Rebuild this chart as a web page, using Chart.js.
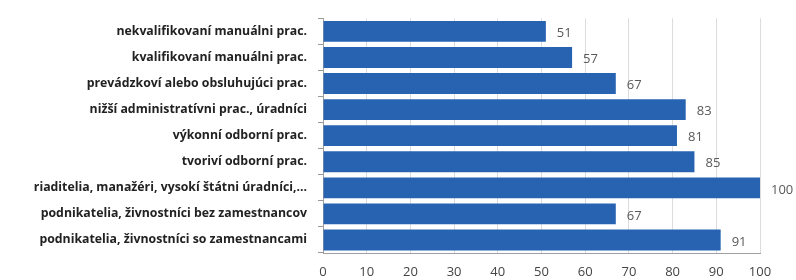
<!DOCTYPE html>
<html><head><meta charset="utf-8">
<script src="https://cdn.jsdelivr.net/npm/chart.js@4/dist/chart.umd.min.js"></script>
<style>html,body{margin:0;padding:0;background:#fff}#wrap{width:796px;height:280px}</style>
</head><body><div id="wrap"><canvas id="c" width="796" height="280"></canvas></div>
<script>
const categories = [
  "nekvalifikovaní manuálni prac.",
  "kvalifikovaní manuálni prac.",
  "prevádzkoví alebo obsluhujúci prac.",
  "nižší administratívni prac., úradníci",
  "výkonní odborní prac.",
  "tvoriví odborní prac.",
  "riaditelia, manažéri, vysokí štátni úradníci,...",
  "podnikatelia, živnostníci bez zamestnancov",
  "podnikatelia, živnostníci so zamestnancami"
];
const values = [51, 57, 67, 83, 81, 85, 100, 67, 91];
const xTicks = [0, 10, 20, 30, 40, 50, 60, 70, 80, 90, 100];

const valueLabels = {
  id: 'valueLabels',
  afterDatasetsDraw(chart) {
    const ctx = chart.ctx;
    const meta = chart.getDatasetMeta(0);
    ctx.save();
    ctx.font = '13px "Open Sans", sans-serif';
    ctx.fillStyle = '#595959';
    ctx.textBaseline = 'middle';
    ctx.textAlign = 'left';
    meta.data.forEach((bar, i) => {
      ctx.fillText(String(values[i]), bar.x + 11, bar.y + 2);
    });
    ctx.restore();
  }
};

new Chart(document.getElementById('c'), {
  type: 'bar',
  data: {
    labels: categories,
    datasets: [{
      data: values,
      backgroundColor: '#2863b2',
      borderWidth: 0,
      barPercentage: 0.8,
      categoryPercentage: 1.0
    }]
  },
  options: {
    indexAxis: 'y',
    responsive: false,
    animation: false,
    layout: { padding: { top: 9, right: 36, left: 0, bottom: 0 } },
    plugins: { legend: { display: false }, tooltip: { enabled: false } },
    scales: {
      x: {
        min: 0, max: 100,
        afterBuildTicks: s => { s.ticks = xTicks.map(v => ({ value: v })); },
        afterFit: s => { s.height = 27; },
        grid: { color: '#dcdcdc', drawTicks: false },
        border: { color: '#a0a0a0' },
        ticks: { padding: 11, color: '#444', font: { family: '"Open Sans", sans-serif', size: 13 } }
      },
      y: {
        afterFit: s => { s.width = 323; },
        grid: { drawOnChartArea: false, tickLength: 5, color: '#999', offset: true },
        border: { color: '#a0a0a0' },
        ticks: { padding: 11, color: '#222', font: { family: '"Open Sans", sans-serif', size: 12.3, weight: 'bold' } }
      }
    }
  },
  plugins: [valueLabels]
});
</script></body></html>
